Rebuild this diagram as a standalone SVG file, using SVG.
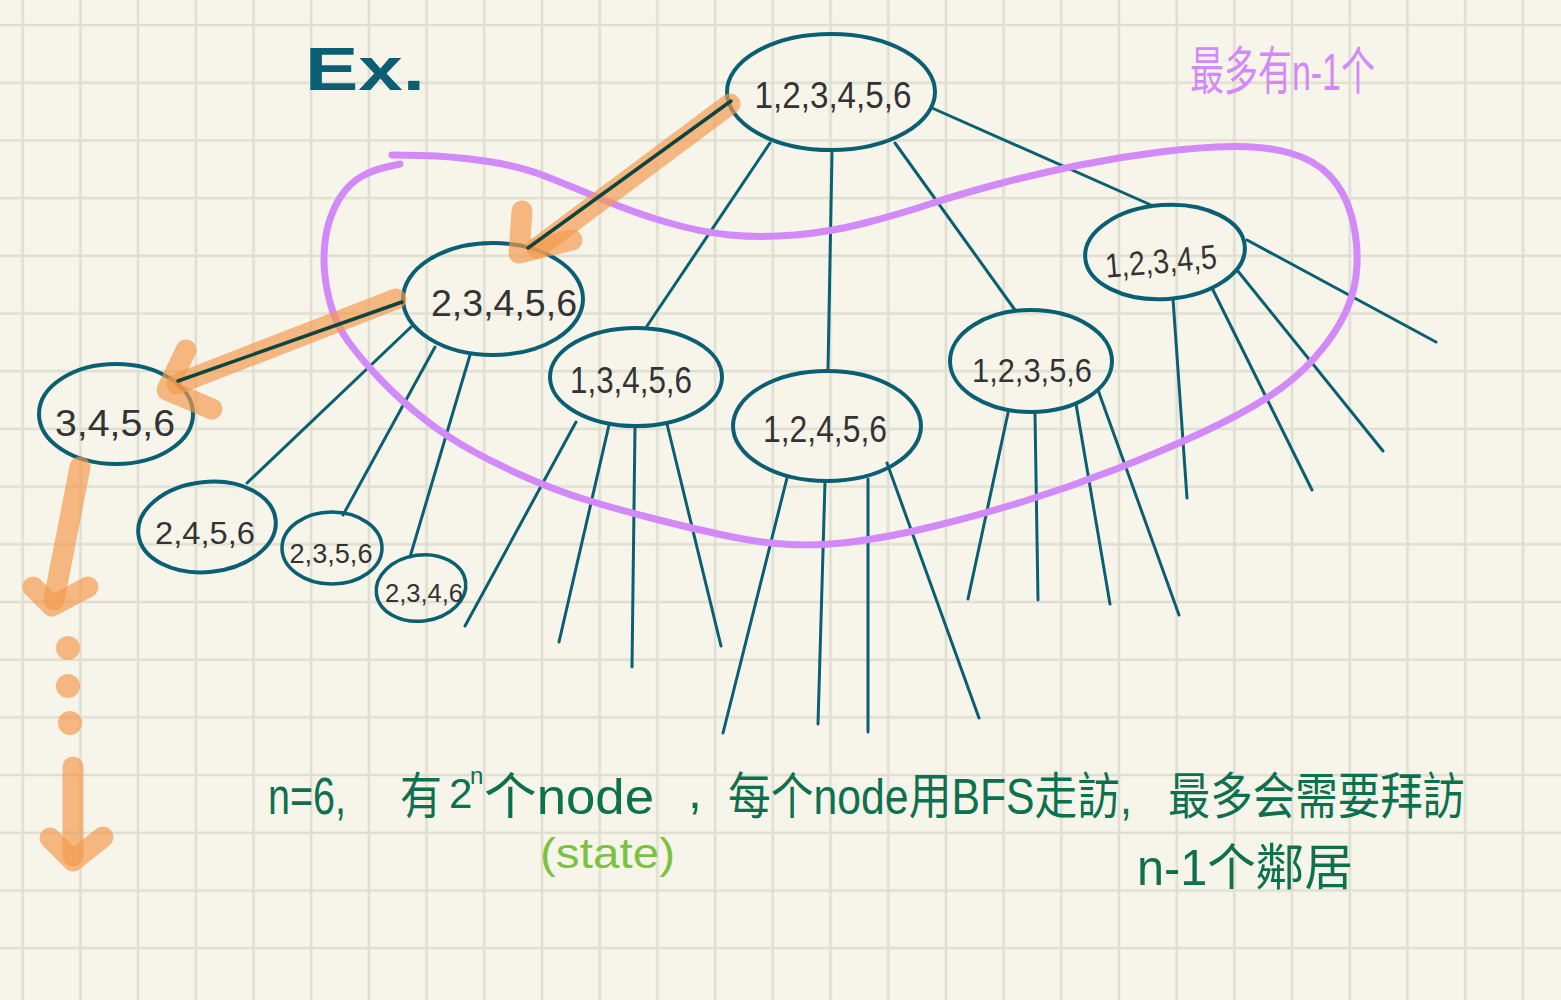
<svg xmlns="http://www.w3.org/2000/svg" width="1561" height="1000" viewBox="0 0 1561 1000">
<defs>
<pattern id="grid" x="-6.15" y="-3.85" width="57.7" height="57.7" patternUnits="userSpaceOnUse">
<path d="M0,28.85 H57.7 M28.85,0 V57.7" fill="none" stroke="#dedfd0" stroke-width="2.6"/>
</pattern>
<style>
.edge{stroke:#0b5f73;stroke-width:3;stroke-linecap:round;fill:none}
.hl{stroke:#0c4540;stroke-width:3.5;stroke-linecap:round;fill:none}
.node{fill:none;stroke:#0b5f73;stroke-width:4}
.lbl{font-family:"Liberation Sans","DejaVu Sans",sans-serif;fill:#333;text-anchor:middle}
.org{fill:none;stroke:#f39a4c;stroke-opacity:0.68;stroke-width:21;stroke-linecap:round;stroke-linejoin:round}
.dot{fill:#f39a4c;fill-opacity:0.68}
.pur{fill:none;stroke:#d28af8;stroke-width:7;stroke-linecap:round;stroke-linejoin:round}
.note{font-family:"Liberation Sans","Noto Sans CJK TC","Noto Sans CJK SC",sans-serif;fill:#0d7150}
</style>
</defs>
<rect width="1561" height="1000" fill="#f7f5ea"/>
<rect width="1561" height="1000" fill="url(#grid)"/>

<text x="305" y="90" font-family="Liberation Sans, sans-serif" font-weight="bold" font-size="62" fill="#0b5f73" textLength="120" lengthAdjust="spacingAndGlyphs">Ex.</text>
<text x="1190" y="90" font-family="Liberation Sans, Noto Sans CJK SC, sans-serif" font-size="52" fill="#d28af8" textLength="185" lengthAdjust="spacingAndGlyphs">最多有n-1个</text>

<g id="connectors">
<line class="edge" x1="770" y1="143" x2="647" y2="326"/>
<line class="edge" x1="832" y1="153" x2="828" y2="370"/>
<line class="edge" x1="895" y1="143" x2="1015" y2="310"/>
<line class="edge" x1="932" y1="108" x2="1151" y2="205"/>
<line class="edge" x1="411" y1="327" x2="247" y2="483"/>
<line class="edge" x1="435" y1="347" x2="343" y2="515"/>
<line class="edge" x1="470" y1="355" x2="410" y2="557"/>
<line class="edge" x1="576" y1="422" x2="465" y2="626"/>
<line class="edge" x1="609" y1="425" x2="559" y2="642"/>
<line class="edge" x1="635" y1="427" x2="632" y2="667"/>
<line class="edge" x1="667" y1="424" x2="721" y2="646"/>
<line class="edge" x1="787" y1="478" x2="723" y2="733"/>
<line class="edge" x1="825" y1="482" x2="818" y2="724"/>
<line class="edge" x1="868" y1="479" x2="868" y2="732"/>
<line class="edge" x1="887" y1="463" x2="979" y2="718"/>
<line class="edge" x1="1008" y1="413" x2="968" y2="599"/>
<line class="edge" x1="1035" y1="414" x2="1038" y2="600"/>
<line class="edge" x1="1076" y1="404" x2="1110" y2="604"/>
<line class="edge" x1="1098" y1="390" x2="1179" y2="615"/>
<line class="edge" x1="1173" y1="299" x2="1187" y2="498"/>
<line class="edge" x1="1212" y1="288" x2="1312" y2="490"/>
<line class="edge" x1="1237" y1="270" x2="1383" y2="451"/>
<line class="edge" x1="1247" y1="240" x2="1436" y2="342"/>
</g>

<g id="n-root"><ellipse class="node" cx="831" cy="92" rx="104" ry="58"/><text class="lbl" x="833" y="108" font-size="36" textLength="157" lengthAdjust="spacingAndGlyphs">1,2,3,4,5,6</text></g>
<g id="n-23456"><ellipse class="node" cx="493" cy="299" rx="90" ry="56"/><text class="lbl" x="504" y="316" font-size="36" textLength="146" lengthAdjust="spacingAndGlyphs">2,3,4,5,6</text></g>
<g id="n-13456"><ellipse class="node" cx="636" cy="377" rx="86" ry="49"/><text class="lbl" x="631" y="393" font-size="36" textLength="122" lengthAdjust="spacingAndGlyphs">1,3,4,5,6</text></g>
<g id="n-12456"><ellipse class="node" cx="827" cy="426" rx="94" ry="55"/><text class="lbl" x="825" y="442" font-size="36" textLength="124" lengthAdjust="spacingAndGlyphs">1,2,4,5,6</text></g>
<g id="n-12356"><ellipse class="node" cx="1031" cy="361" rx="81" ry="51"/><text class="lbl" x="1032" y="382" font-size="34" textLength="120" lengthAdjust="spacingAndGlyphs">1,2,3,5,6</text></g>
<g id="n-12345"><ellipse class="node" cx="1165" cy="252" rx="80" ry="47" transform="rotate(-4 1165 252)"/><text class="lbl" x="1161" y="273" font-size="34" textLength="112" lengthAdjust="spacingAndGlyphs" transform="rotate(-5 1161 262)">1,2,3,4,5</text></g>
<g id="n-3456"><ellipse class="node" cx="116" cy="414" rx="77" ry="50"/><text class="lbl" x="115" y="436" font-size="36" textLength="120" lengthAdjust="spacingAndGlyphs">3,4,5,6</text></g>
<g id="n-2456"><ellipse class="node" cx="207" cy="527" rx="69" ry="45" transform="rotate(-6 207 527)"/><text class="lbl" x="205" y="544" font-size="32" textLength="100" lengthAdjust="spacingAndGlyphs">2,4,5,6</text></g>
<g id="n-2356"><ellipse class="node" cx="332" cy="548" rx="50" ry="36" style="stroke-width:3.5"/><text class="lbl" x="331" y="563" font-size="28" textLength="83" lengthAdjust="spacingAndGlyphs">2,3,5,6</text></g>
<g id="n-2346"><ellipse class="node" cx="421" cy="588" rx="45" ry="33" transform="rotate(-8 421 588)" style="stroke-width:3.5"/><text class="lbl" x="424" y="602" font-size="25" textLength="78" lengthAdjust="spacingAndGlyphs">2,3,4,6</text></g>

<path class="pur" d="M392,155 L421,155.5 Q450,156 485,161 Q520,166 547.5,177 Q575,188 605,200.5 Q635,213 667.5,222.5 Q700,232 730,235 Q760,238 795,235 Q830,232 865,223 Q900,214 930,204 Q960,194 1000,183.5 Q1040,173 1080,165 Q1120,157 1160,152 Q1200,147 1232.5,146.5 Q1265,146 1290,153 Q1315,160 1330,176 Q1345,192 1351.5,216 Q1358,240 1357,265 Q1356,290 1345.5,312.5 Q1335,335 1315,357.5 Q1295,380 1267.5,397.5 Q1240,415 1200,433.5 Q1160,452 1115,469.5 Q1070,487 1025,501 Q980,515 935,526 Q890,537 855,541.5 Q820,546 790,544.5 Q760,543 725,535.5 Q690,528 655,519 Q620,510 590,501 Q560,492 530,479 Q500,466 473.5,451.5 Q447,437 423.5,418.5 Q400,400 381,380 Q362,360 349,342.5 Q336,325 330,302.5 Q324,280 324,260 Q324,240 328.5,224 Q333,208 341.5,195.5 Q350,183 361.5,176.5 Q373,170 386.5,167 L400,164"/>

<g id="highlight">
<line class="org" x1="730" y1="104" x2="537" y2="248"/>
<path class="org" d="M522,211 L519,253 L572,240"/>
<line class="org" x1="396" y1="299" x2="177" y2="384"/>
<path class="org" d="M186,350 L167,390 L212,409"/>
<line class="org" x1="80" y1="467" x2="54" y2="600"/>
<path class="org" d="M33,587 L52,606 L88,587"/>
<circle class="dot" cx="68" cy="648" r="12"/>
<circle class="dot" cx="68" cy="686" r="12"/>
<circle class="dot" cx="70" cy="723" r="12"/>
<line class="org" x1="73" y1="767" x2="73" y2="856"/>
<path class="org" d="M50,838 L73,861 L103,837"/>
<line class="hl" x1="731" y1="101" x2="528" y2="248"/>
<line class="hl" x1="402" y1="302" x2="178" y2="381"/>
</g>

<g id="notes">
<text class="note" x="268" y="814" font-size="52" textLength="78" lengthAdjust="spacingAndGlyphs">n=6,</text>
<text class="note" x="400" y="814" font-size="50" textLength="42" lengthAdjust="spacingAndGlyphs">有</text>
<text class="note" x="449" y="808" font-size="42">2</text>
<text class="note" x="470" y="784" font-size="24">n</text>
<text class="note" x="484" y="814" font-size="50" textLength="170" lengthAdjust="spacingAndGlyphs">个node</text>
<text class="note" x="688" y="808" font-size="50">,</text>
<text class="note" x="728" y="814" font-size="50" textLength="404" lengthAdjust="spacingAndGlyphs">每个node用BFS走訪,</text>
<text class="note" x="1168" y="814" font-size="50" textLength="297" lengthAdjust="spacingAndGlyphs">最多会需要拜訪</text>
<text class="note" x="1137" y="885" font-size="50" textLength="216" lengthAdjust="spacingAndGlyphs">n-1个鄰居</text>
<text x="540" y="868" font-family="Liberation Sans, sans-serif" font-size="42" fill="#7cc242" textLength="135" lengthAdjust="spacingAndGlyphs">(state)</text>
</g>
</svg>
